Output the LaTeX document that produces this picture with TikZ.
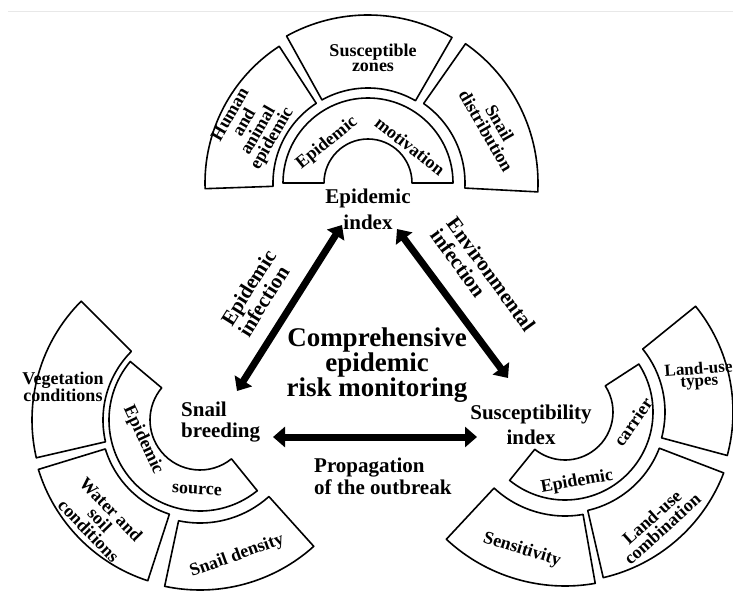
\documentclass[tikz,border=0pt]{standalone}
\usepackage{fontspec}
\setmainfont{Liberation Serif}
\usetikzlibrary{calc,arrows.meta}
\newcommand\ringsec[5]{\draw[seg] ($(#1)+(#2:#4)$) arc[start angle=#2,end angle=#3,radius=#4] -- ($(#1)+(#3:#5)$) arc[start angle=#3,end angle=#2,radius=#5] -- cycle;}
\tikzset{
  seg/.style={draw, line width=1.6pt, line join=round},
  segtxt/.style={font=\bfseries\fontsize{18}{15.5}\selectfont, align=center, inner sep=0pt},
  idx/.style={font=\bfseries\fontsize{21}{25}\selectfont, align=center, inner sep=0pt},
  big/.style={font=\bfseries\fontsize{27}{25}\selectfont, align=center, inner sep=0pt},
  lab/.style={font=\bfseries\fontsize{21}{20}\selectfont, align=left, inner sep=0pt},
  bigarrow/.style={line width=7pt, {Triangle[length=12pt,width=20pt]}-{Triangle[length=12pt,width=20pt]}}
}
\begin{document}
\begin{tikzpicture}[x=1pt,y=1pt]
\useasboundingbox (0,0) rectangle (733,-601);
\draw[gray!18, line width=0.6pt] (8,-11) -- (733,-11);
% centres
\coordinate (Tc) at (368,-183);
\coordinate (Lc) at (200,-420);
\coordinate (Rc) at (565,-412);
% top cluster
\ringsec{Tc}{0}{180}{85}{44}
\ringsec{Tc}{123}{182}{95}{163}
\ringsec{Tc}{60}{119}{95}{168}
\ringsec{Tc}{-3}{55}{97}{170}
% left cluster
\ringsec{Lc}{140}{309}{91}{50}
\ringsec{Lc}{135}{193}{97}{168}
\ringsec{Lc}{197}{252}{99}{169}
\ringsec{Lc}{258}{312}{103}{170}
% right cluster
\ringsec{Rc}{-129}{33}{88}{48}
\ringsec{Rc}{-15}{39}{100}{168}
\ringsec{Rc}{-77}{-21}{101}{170}
\ringsec{Rc}{-133}{-80}{104}{174}
% top texts
\node[segtxt] (susz) at (373,-58) {Susceptible\\zones};
\node[segtxt, rotate=60, font=\bfseries\fontsize{18}{16}\selectfont] (hae) at (252,-127) {Human\\and\\animal\\epidemic};
\node[segtxt, rotate=-60] (sdis) at (493,-127) {Snail\\distribution};
\node[segtxt, rotate=39] (em1) at (327,-143) {Epidemic};
\node[segtxt, rotate=-38] (em2) at (410,-146) {motivation};
\node[idx, font=\bfseries\fontsize{21}{26}\selectfont] (ei) at (368,-209) {Epidemic\\index};
% left texts
\node[idx, align=left, anchor=west, font=\bfseries\fontsize{21}{21}\selectfont] (sb) at (181,-422) {Snail\\breeding};
\node[segtxt, font=\bfseries\fontsize{18}{17}\selectfont] (veg) at (63,-387) {Vegetation\\conditions};
\node[segtxt, rotate=-65] (es1) at (143,-440) {Epidemic};
\node[segtxt, rotate=-3] (es2) at (197,-490) {source};
\node[segtxt, rotate=-46] (wsc) at (100,-520) {Water and\\soil\\conditions};
\node[segtxt, rotate=20] (sden) at (237,-556) {Snail density};
% right texts
\node[idx] (si) at (531,-425) {Susceptibility\\index};
\node[segtxt, rotate=55] (ec1) at (633,-422) {carrier};
\node[segtxt, rotate=10] (ec2) at (577,-482) {Epidemic};
\node[segtxt, rotate=4, font=\bfseries\fontsize{17}{12}\selectfont] (lut) at (699,-376) {Land-use\\types};
\node[segtxt, rotate=42] (luc) at (657,-523) {Land-use\\combination};
\node[segtxt, rotate=-17] (sens) at (522,-550) {Sensitivity};
% centre texts
\node[big] (crm) at (377,-365) {Comprehensive\\epidemic\\risk monitoring};
\node[lab, rotate=58] (einf) at (257,-293) {Epidemic\\infection};
\node[lab, rotate=-54] (envi) at (483,-280) {Environmental\\infection};
\node[lab, anchor=west, font=\bfseries\fontsize{21}{22}\selectfont] (prop) at (314,-476) {Propagation\\of the outbreak};
% arrows
\coordinate (a1s) at (237,-391); \coordinate (a1e) at (342,-225);
\coordinate (a2s) at (397,-229); \coordinate (a2e) at (508,-378);
\coordinate (a3s) at (273,-437); \coordinate (a3e) at (477,-437);
\draw[bigarrow] (a1s) -- (a1e);
\draw[bigarrow] (a2s) -- (a2e);
\draw[bigarrow] (a3s) -- (a3e);
\end{tikzpicture}
\end{document}
